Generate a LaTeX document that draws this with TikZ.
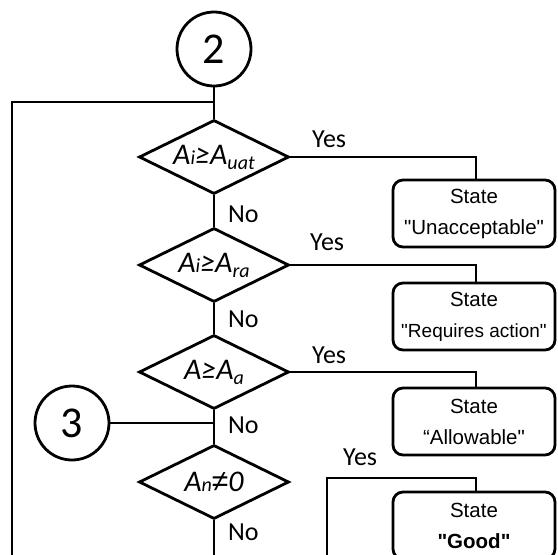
\documentclass[tikz,border=0pt]{standalone}
\usepackage{fontspec}
\setmainfont{Carlito}
\newfontfamily\boxfont{Liberation Sans}
\usetikzlibrary{shapes.geometric}
\newcommand\lo[2][-5pt]{\raisebox{#1}{\fontsize{20}{20}\selectfont #2}}
\newcommand\noteq{{\boxfont\itshape ≠}}
\tikzset{
  flow/.style={line width=2.8pt},
  decision/.style={diamond,draw,line width=2.8pt,aspect=2.03,minimum width=150pt,minimum height=74pt,inner sep=0pt,font=\fontsize{30}{30}\selectfont\itshape},
  statebox/.style={rectangle,draw,rounded corners=10pt,line width=2.8pt,minimum width=162pt,minimum height=67pt,inner xsep=0pt,align=center,font=\boxfont\fontsize{20.5}{31}\selectfont},
  connector/.style={circle,draw,line width=2.8pt,minimum size=74pt,inner sep=0pt,font=\fontsize{44}{44}\selectfont},
  answer/.style={anchor=base west,inner sep=0pt,font=\fontsize{26}{26}\selectfont}
}

\begin{document}
\begin{tikzpicture}[x=1pt,y=-1pt]
  \useasboundingbox (0,0) rectangle (558,555);
  \clip (0,0) rectangle (558,555);

  % connectors
  \node[connector] (c2) at (214,49) {2};
  \node[connector] (c3) at (72,423) {3};

  % decisions and states
  \foreach \y/\cond [count=\i] in {157/{A\lo[0pt]{i}≥A\lo{uat}},265/{A\lo[0pt]{i}≥A\lo{ra}},
                                   372/{A≥A\lo{a}},482/{A\lo[0pt]{n}\noteq0}}
    \node[decision] (d\i) at (214,\y) {\cond};

  \foreach \y/\state [count=\i] in {213.5/{"Unacceptable"},316.5/{\fontsize{19}{31}\selectfont"Requires action"},
                                    421.5/{“Allowable"},525.5/{\bfseries"Good"}}
    \node[statebox] (b\i) at (474,\y) {State\\\state};

  \coordinate (j2) at (214,102);
  \coordinate (left) at (12,560);
  \coordinate (exit) at (214,560);
  \coordinate (y4) at (327,478);
  \coordinate (y4end) at (327,560);

  % main line
  \draw[flow] (c2) -- (d1);
  \draw[flow] (j2) -| (left);
  \draw[flow] (d1) -- (d2);
  \draw[flow] (d2) -- (d3);
  \draw[flow] (d3) -- (d4);
  \draw[flow] (d4) -- (exit);
  \draw[flow] (c3) -- (c3 -| d3.south);

  % yes branches
  \foreach \i in {1,2,3}
    \draw[flow] (d\i.east) -| ([xshift=2pt]b\i.north);
  \draw[flow] (y4end) -- (y4) -| ([xshift=2pt]b4.north);

  % labels
  \foreach \y [count=\i] in {222,327,433,540}
    \node[answer] (no\i) at (228,\y) {No};
  \foreach \x/\y [count=\i] in {312/147,310/250,312/363,343/465}
    \node[answer] (yes\i) at (\x,\y) {Yes};
\end{tikzpicture}
\end{document}
